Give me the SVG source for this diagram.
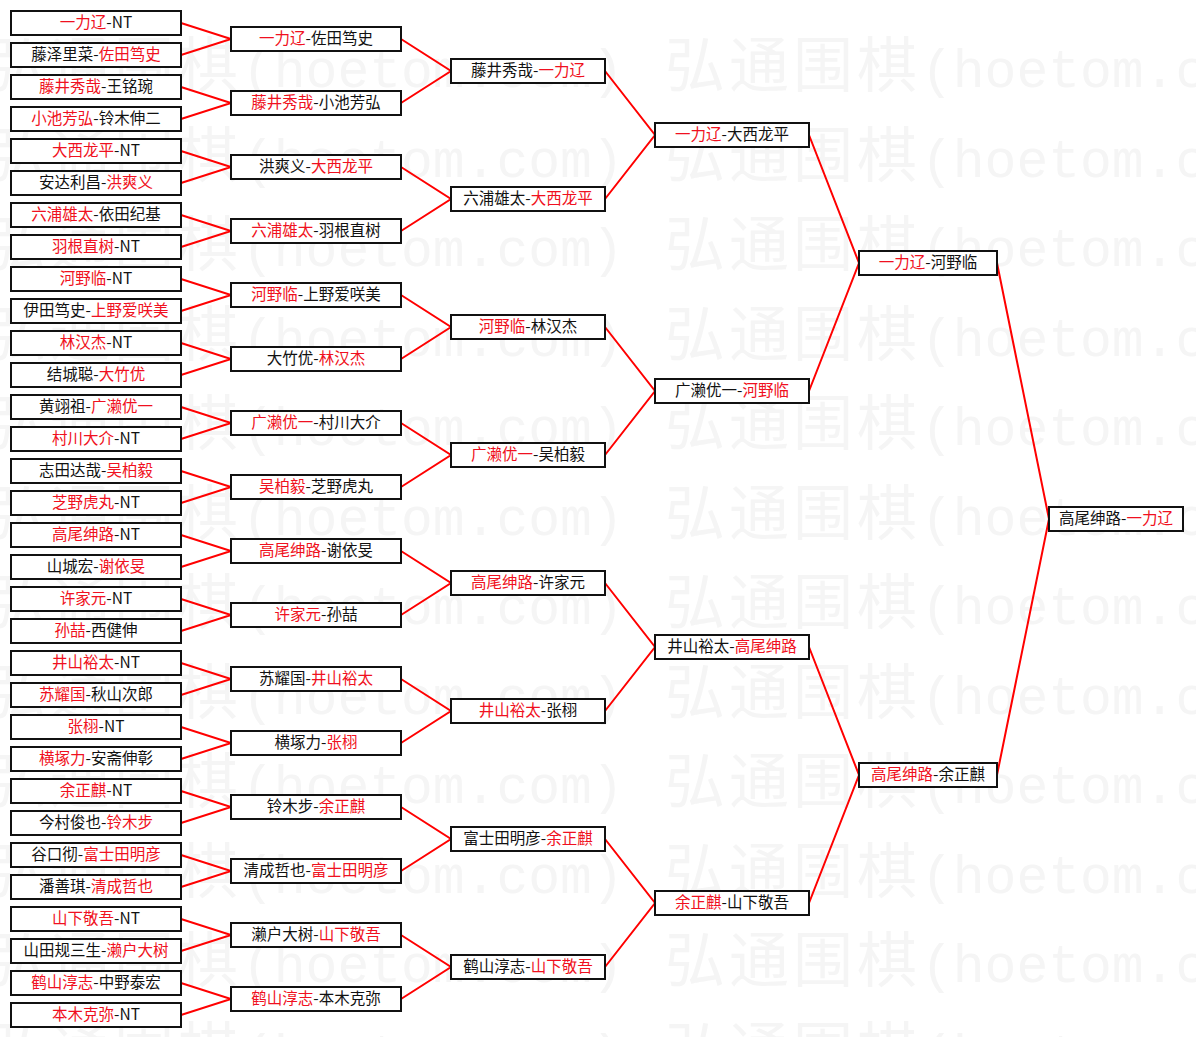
<svg xmlns="http://www.w3.org/2000/svg" xmlns:xlink="http://www.w3.org/1999/xlink" width="1196" height="1037" viewBox="0 0 1196 1037">
<style>
.bg{fill:#fff}
.box{fill:#fff;stroke:#111;stroke-width:2}
.t{font-family:"Noto Sans CJK SC","Noto Sans CJK JP",sans-serif;font-size:15.5px;fill:#111;text-anchor:middle}
.r{fill:#f01020}
.c{fill:none;stroke:#f00;stroke-width:2;stroke-linejoin:miter}
.wm{fill:#f5f5f5}
.wc{font-family:"Noto Sans CJK SC",sans-serif;font-size:60px;letter-spacing:4px}
.wl{font-family:"Liberation Mono",monospace;font-size:53px}
</style>
<defs>
<text id="wm" class="wm"><tspan class="wc">弘通围棋</tspan><tspan class="wl">(hoetom.com)</tspan></text>
</defs>
<rect class="bg" x="0" y="0" width="1196" height="1037"/>
<g id="watermark">
<use href="#wm" x="-14" y="87"/><use href="#wm" x="665" y="87"/>
<use href="#wm" x="-14" y="177"/><use href="#wm" x="665" y="177"/>
<use href="#wm" x="-14" y="266"/><use href="#wm" x="665" y="266"/>
<use href="#wm" x="-14" y="356"/><use href="#wm" x="665" y="356"/>
<use href="#wm" x="-14" y="445"/><use href="#wm" x="665" y="445"/>
<use href="#wm" x="-14" y="535"/><use href="#wm" x="665" y="535"/>
<use href="#wm" x="-14" y="624"/><use href="#wm" x="665" y="624"/>
<use href="#wm" x="-14" y="714"/><use href="#wm" x="665" y="714"/>
<use href="#wm" x="-14" y="803"/><use href="#wm" x="665" y="803"/>
<use href="#wm" x="-14" y="893"/><use href="#wm" x="665" y="893"/>
<use href="#wm" x="-14" y="982"/><use href="#wm" x="665" y="982"/>
<use href="#wm" x="-14" y="1072"/><use href="#wm" x="665" y="1072"/>
</g>
<g id="connectors">
<path class="c" d="M181 23L231 39L181 55"/>
<path class="c" d="M181 87L231 103L181 119"/>
<path class="c" d="M181 151L231 167L181 183"/>
<path class="c" d="M181 215L231 231L181 247"/>
<path class="c" d="M181 279L231 295L181 311"/>
<path class="c" d="M181 343L231 359L181 375"/>
<path class="c" d="M181 407L231 423L181 439"/>
<path class="c" d="M181 471L231 487L181 503"/>
<path class="c" d="M181 535L231 551L181 567"/>
<path class="c" d="M181 599L231 615L181 631"/>
<path class="c" d="M181 663L231 679L181 695"/>
<path class="c" d="M181 727L231 743L181 759"/>
<path class="c" d="M181 791L231 807L181 823"/>
<path class="c" d="M181 855L231 871L181 887"/>
<path class="c" d="M181 919L231 935L181 951"/>
<path class="c" d="M181 983L231 999L181 1015"/>
<path class="c" d="M401 39L451 71L401 103"/>
<path class="c" d="M401 167L451 199L401 231"/>
<path class="c" d="M401 295L451 327L401 359"/>
<path class="c" d="M401 423L451 455L401 487"/>
<path class="c" d="M401 551L451 583L401 615"/>
<path class="c" d="M401 679L451 711L401 743"/>
<path class="c" d="M401 807L451 839L401 871"/>
<path class="c" d="M401 935L451 967L401 999"/>
<path class="c" d="M605 71L655 135L605 199"/>
<path class="c" d="M605 327L655 391L605 455"/>
<path class="c" d="M605 583L655 647L605 711"/>
<path class="c" d="M605 839L655 903L605 967"/>
<path class="c" d="M809 135L859 263L809 391"/>
<path class="c" d="M809 647L859 775L809 903"/>
<path class="c" d="M997 263L1049 519L997 775"/>
</g>
<g id="r1-0"><rect class="box" x="11" y="11" width="170" height="24"/><text class="t" x="96" y="28"><tspan class="r">一力辽</tspan>-NT</text></g>
<g id="r1-1"><rect class="box" x="11" y="43" width="170" height="24"/><text class="t" x="96" y="60">藤泽里菜-<tspan class="r">佐田笃史</tspan></text></g>
<g id="r1-2"><rect class="box" x="11" y="75" width="170" height="24"/><text class="t" x="96" y="92"><tspan class="r">藤井秀哉</tspan>-王铭琬</text></g>
<g id="r1-3"><rect class="box" x="11" y="107" width="170" height="24"/><text class="t" x="96" y="124"><tspan class="r">小池芳弘</tspan>-铃木伸二</text></g>
<g id="r1-4"><rect class="box" x="11" y="139" width="170" height="24"/><text class="t" x="96" y="156"><tspan class="r">大西龙平</tspan>-NT</text></g>
<g id="r1-5"><rect class="box" x="11" y="171" width="170" height="24"/><text class="t" x="96" y="188">安达利昌-<tspan class="r">洪爽义</tspan></text></g>
<g id="r1-6"><rect class="box" x="11" y="203" width="170" height="24"/><text class="t" x="96" y="220"><tspan class="r">六浦雄太</tspan>-依田纪基</text></g>
<g id="r1-7"><rect class="box" x="11" y="235" width="170" height="24"/><text class="t" x="96" y="252"><tspan class="r">羽根直树</tspan>-NT</text></g>
<g id="r1-8"><rect class="box" x="11" y="267" width="170" height="24"/><text class="t" x="96" y="284"><tspan class="r">河野临</tspan>-NT</text></g>
<g id="r1-9"><rect class="box" x="11" y="299" width="170" height="24"/><text class="t" x="96" y="316">伊田笃史-<tspan class="r">上野爱咲美</tspan></text></g>
<g id="r1-10"><rect class="box" x="11" y="331" width="170" height="24"/><text class="t" x="96" y="348"><tspan class="r">林汉杰</tspan>-NT</text></g>
<g id="r1-11"><rect class="box" x="11" y="363" width="170" height="24"/><text class="t" x="96" y="380">结城聪-<tspan class="r">大竹优</tspan></text></g>
<g id="r1-12"><rect class="box" x="11" y="395" width="170" height="24"/><text class="t" x="96" y="412">黄翊祖-<tspan class="r">广濑优一</tspan></text></g>
<g id="r1-13"><rect class="box" x="11" y="427" width="170" height="24"/><text class="t" x="96" y="444"><tspan class="r">村川大介</tspan>-NT</text></g>
<g id="r1-14"><rect class="box" x="11" y="459" width="170" height="24"/><text class="t" x="96" y="476">志田达哉-<tspan class="r">吴柏毅</tspan></text></g>
<g id="r1-15"><rect class="box" x="11" y="491" width="170" height="24"/><text class="t" x="96" y="508"><tspan class="r">芝野虎丸</tspan>-NT</text></g>
<g id="r1-16"><rect class="box" x="11" y="523" width="170" height="24"/><text class="t" x="96" y="540"><tspan class="r">高尾绅路</tspan>-NT</text></g>
<g id="r1-17"><rect class="box" x="11" y="555" width="170" height="24"/><text class="t" x="96" y="572">山城宏-<tspan class="r">谢依旻</tspan></text></g>
<g id="r1-18"><rect class="box" x="11" y="587" width="170" height="24"/><text class="t" x="96" y="604"><tspan class="r">许家元</tspan>-NT</text></g>
<g id="r1-19"><rect class="box" x="11" y="619" width="170" height="24"/><text class="t" x="96" y="636"><tspan class="r">孙喆</tspan>-西健伸</text></g>
<g id="r1-20"><rect class="box" x="11" y="651" width="170" height="24"/><text class="t" x="96" y="668"><tspan class="r">井山裕太</tspan>-NT</text></g>
<g id="r1-21"><rect class="box" x="11" y="683" width="170" height="24"/><text class="t" x="96" y="700"><tspan class="r">苏耀国</tspan>-秋山次郎</text></g>
<g id="r1-22"><rect class="box" x="11" y="715" width="170" height="24"/><text class="t" x="96" y="732"><tspan class="r">张栩</tspan>-NT</text></g>
<g id="r1-23"><rect class="box" x="11" y="747" width="170" height="24"/><text class="t" x="96" y="764"><tspan class="r">横塚力</tspan>-安斋伸彰</text></g>
<g id="r1-24"><rect class="box" x="11" y="779" width="170" height="24"/><text class="t" x="96" y="796"><tspan class="r">余正麒</tspan>-NT</text></g>
<g id="r1-25"><rect class="box" x="11" y="811" width="170" height="24"/><text class="t" x="96" y="828">今村俊也-<tspan class="r">铃木步</tspan></text></g>
<g id="r1-26"><rect class="box" x="11" y="843" width="170" height="24"/><text class="t" x="96" y="860">谷口彻-<tspan class="r">富士田明彦</tspan></text></g>
<g id="r1-27"><rect class="box" x="11" y="875" width="170" height="24"/><text class="t" x="96" y="892">潘善琪-<tspan class="r">清成哲也</tspan></text></g>
<g id="r1-28"><rect class="box" x="11" y="907" width="170" height="24"/><text class="t" x="96" y="924"><tspan class="r">山下敬吾</tspan>-NT</text></g>
<g id="r1-29"><rect class="box" x="11" y="939" width="170" height="24"/><text class="t" x="96" y="956">山田规三生-<tspan class="r">濑户大树</tspan></text></g>
<g id="r1-30"><rect class="box" x="11" y="971" width="170" height="24"/><text class="t" x="96" y="988"><tspan class="r">鹤山淳志</tspan>-中野泰宏</text></g>
<g id="r1-31"><rect class="box" x="11" y="1003" width="170" height="24"/><text class="t" x="96" y="1020"><tspan class="r">本木克弥</tspan>-NT</text></g>
<g id="r2-0"><rect class="box" x="231" y="27" width="170" height="24"/><text class="t" x="316" y="44"><tspan class="r">一力辽</tspan>-佐田笃史</text></g>
<g id="r2-1"><rect class="box" x="231" y="91" width="170" height="24"/><text class="t" x="316" y="108"><tspan class="r">藤井秀哉</tspan>-小池芳弘</text></g>
<g id="r2-2"><rect class="box" x="231" y="155" width="170" height="24"/><text class="t" x="316" y="172">洪爽义-<tspan class="r">大西龙平</tspan></text></g>
<g id="r2-3"><rect class="box" x="231" y="219" width="170" height="24"/><text class="t" x="316" y="236"><tspan class="r">六浦雄太</tspan>-羽根直树</text></g>
<g id="r2-4"><rect class="box" x="231" y="283" width="170" height="24"/><text class="t" x="316" y="300"><tspan class="r">河野临</tspan>-上野爱咲美</text></g>
<g id="r2-5"><rect class="box" x="231" y="347" width="170" height="24"/><text class="t" x="316" y="364">大竹优-<tspan class="r">林汉杰</tspan></text></g>
<g id="r2-6"><rect class="box" x="231" y="411" width="170" height="24"/><text class="t" x="316" y="428"><tspan class="r">广濑优一</tspan>-村川大介</text></g>
<g id="r2-7"><rect class="box" x="231" y="475" width="170" height="24"/><text class="t" x="316" y="492"><tspan class="r">吴柏毅</tspan>-芝野虎丸</text></g>
<g id="r2-8"><rect class="box" x="231" y="539" width="170" height="24"/><text class="t" x="316" y="556"><tspan class="r">高尾绅路</tspan>-谢依旻</text></g>
<g id="r2-9"><rect class="box" x="231" y="603" width="170" height="24"/><text class="t" x="316" y="620"><tspan class="r">许家元</tspan>-孙喆</text></g>
<g id="r2-10"><rect class="box" x="231" y="667" width="170" height="24"/><text class="t" x="316" y="684">苏耀国-<tspan class="r">井山裕太</tspan></text></g>
<g id="r2-11"><rect class="box" x="231" y="731" width="170" height="24"/><text class="t" x="316" y="748">横塚力-<tspan class="r">张栩</tspan></text></g>
<g id="r2-12"><rect class="box" x="231" y="795" width="170" height="24"/><text class="t" x="316" y="812">铃木步-<tspan class="r">余正麒</tspan></text></g>
<g id="r2-13"><rect class="box" x="231" y="859" width="170" height="24"/><text class="t" x="316" y="876">清成哲也-<tspan class="r">富士田明彦</tspan></text></g>
<g id="r2-14"><rect class="box" x="231" y="923" width="170" height="24"/><text class="t" x="316" y="940">濑户大树-<tspan class="r">山下敬吾</tspan></text></g>
<g id="r2-15"><rect class="box" x="231" y="987" width="170" height="24"/><text class="t" x="316" y="1004"><tspan class="r">鹤山淳志</tspan>-本木克弥</text></g>
<g id="r3-0"><rect class="box" x="451" y="59" width="154" height="24"/><text class="t" x="528" y="76">藤井秀哉-<tspan class="r">一力辽</tspan></text></g>
<g id="r3-1"><rect class="box" x="451" y="187" width="154" height="24"/><text class="t" x="528" y="204">六浦雄太-<tspan class="r">大西龙平</tspan></text></g>
<g id="r3-2"><rect class="box" x="451" y="315" width="154" height="24"/><text class="t" x="528" y="332"><tspan class="r">河野临</tspan>-林汉杰</text></g>
<g id="r3-3"><rect class="box" x="451" y="443" width="154" height="24"/><text class="t" x="528" y="460"><tspan class="r">广濑优一</tspan>-吴柏毅</text></g>
<g id="r3-4"><rect class="box" x="451" y="571" width="154" height="24"/><text class="t" x="528" y="588"><tspan class="r">高尾绅路</tspan>-许家元</text></g>
<g id="r3-5"><rect class="box" x="451" y="699" width="154" height="24"/><text class="t" x="528" y="716"><tspan class="r">井山裕太</tspan>-张栩</text></g>
<g id="r3-6"><rect class="box" x="451" y="827" width="154" height="24"/><text class="t" x="528" y="844">富士田明彦-<tspan class="r">余正麒</tspan></text></g>
<g id="r3-7"><rect class="box" x="451" y="955" width="154" height="24"/><text class="t" x="528" y="972">鹤山淳志-<tspan class="r">山下敬吾</tspan></text></g>
<g id="r4-0"><rect class="box" x="655" y="123" width="154" height="24"/><text class="t" x="732" y="140"><tspan class="r">一力辽</tspan>-大西龙平</text></g>
<g id="r4-1"><rect class="box" x="655" y="379" width="154" height="24"/><text class="t" x="732" y="396">广濑优一-<tspan class="r">河野临</tspan></text></g>
<g id="r4-2"><rect class="box" x="655" y="635" width="154" height="24"/><text class="t" x="732" y="652">井山裕太-<tspan class="r">高尾绅路</tspan></text></g>
<g id="r4-3"><rect class="box" x="655" y="891" width="154" height="24"/><text class="t" x="732" y="908"><tspan class="r">余正麒</tspan>-山下敬吾</text></g>
<g id="r5-0"><rect class="box" x="859" y="251" width="138" height="24"/><text class="t" x="928" y="268"><tspan class="r">一力辽</tspan>-河野临</text></g>
<g id="r5-1"><rect class="box" x="859" y="763" width="138" height="24"/><text class="t" x="928" y="780"><tspan class="r">高尾绅路</tspan>-余正麒</text></g>
<g id="final"><rect class="box" x="1049" y="507" width="134" height="24"/><text class="t" x="1116" y="524">高尾绅路-<tspan class="r">一力辽</tspan></text></g>
</svg>
